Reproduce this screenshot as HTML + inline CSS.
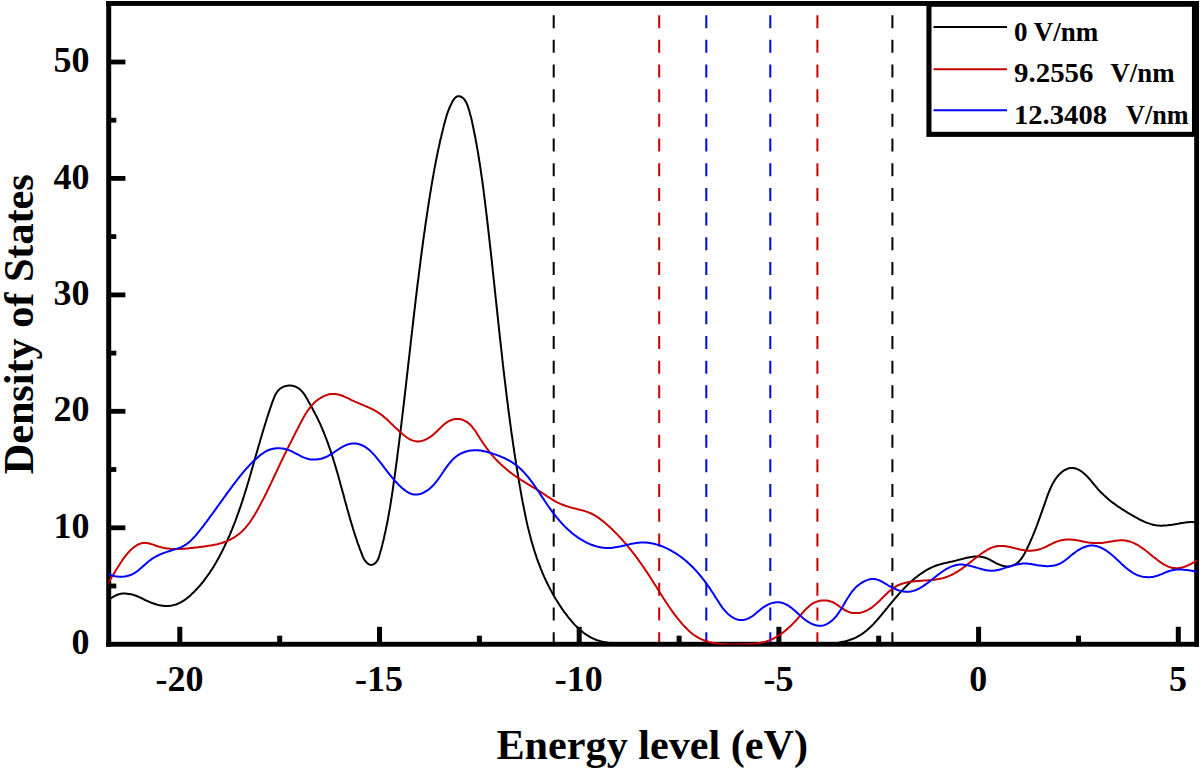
<!DOCTYPE html>
<html><head><meta charset="utf-8"><title>Density of States</title>
<style>html,body{margin:0;padding:0;background:#fff}svg{display:block}</style></head>
<body>
<svg width="1200" height="769" viewBox="0 0 1200 769">
<rect width="1200" height="769" fill="#fff"/>
<defs><clipPath id="cp"><rect x="108.4" y="2.5" width="1088.4" height="641.9"/></clipPath></defs>
<g fill="#000">
<rect x="106.2" y="1" width="5" height="645.7"/>
<rect x="106.2" y="641.8" width="1092.8" height="4.9"/>
<rect x="106.2" y="1" width="1092.8" height="4.9"/>
<rect x="1194.2" y="1" width="4.8" height="645.7"/>
<rect x="111" y="583.6" width="5.3" height="4.8"/>
<rect x="111" y="525.4" width="14.4" height="4.8"/>
<rect x="111" y="467.1" width="5.3" height="4.8"/>
<rect x="111" y="408.9" width="14.4" height="4.8"/>
<rect x="111" y="350.7" width="5.3" height="4.8"/>
<rect x="111" y="292.5" width="14.4" height="4.8"/>
<rect x="111" y="234.2" width="5.3" height="4.8"/>
<rect x="111" y="176.0" width="14.4" height="4.8"/>
<rect x="111" y="117.8" width="5.3" height="4.8"/>
<rect x="111" y="59.6" width="14.4" height="4.8"/>
<rect x="177.3" y="626.8" width="5" height="16"/>
<rect x="277.2" y="635.7" width="5" height="7.1"/>
<rect x="377.0" y="626.8" width="5" height="16"/>
<rect x="476.9" y="635.7" width="5" height="7.1"/>
<rect x="576.7" y="626.8" width="5" height="16"/>
<rect x="676.6" y="635.7" width="5" height="7.1"/>
<rect x="776.4" y="626.8" width="5" height="16"/>
<rect x="876.2" y="635.7" width="5" height="7.1"/>
<rect x="976.1" y="626.8" width="5" height="16"/>
<rect x="1076.0" y="635.7" width="5" height="7.1"/>
<rect x="1175.8" y="626.8" width="5" height="16"/>
</g>
<line x1="553.7" y1="15.13" x2="553.7" y2="642" stroke="#000" stroke-width="2" stroke-dasharray="13 11.68"/>
<line x1="659.2" y1="15.13" x2="659.2" y2="642" stroke="#c80000" stroke-width="2" stroke-dasharray="13 11.68"/>
<line x1="706.3" y1="15.13" x2="706.3" y2="642" stroke="#0000ff" stroke-width="2" stroke-dasharray="13 11.68"/>
<line x1="770.3" y1="15.13" x2="770.3" y2="642" stroke="#0000ff" stroke-width="2" stroke-dasharray="13 11.68"/>
<line x1="817.4" y1="15.13" x2="817.4" y2="642" stroke="#c80000" stroke-width="2" stroke-dasharray="13 11.68"/>
<line x1="892.4" y1="15.13" x2="892.4" y2="642" stroke="#000" stroke-width="2" stroke-dasharray="13 11.68"/>
<g fill="none" stroke-width="2" stroke-linejoin="round" clip-path="url(#cp)">
<path d="M106.0,600.5 L107.4,600.0 L108.8,599.4 L110.1,598.7 L111.4,597.9 L112.7,597.2 L114.0,596.4 L115.4,595.7 L116.7,595.0 L118.1,594.5 L119.6,594.1 L121.0,593.8 L122.6,593.6 L124.1,593.6 L125.6,593.6 L127.1,593.7 L128.6,593.9 L130.1,594.1 L131.6,594.4 L133.1,594.8 L134.5,595.2 L135.9,595.7 L137.2,596.3 L138.6,596.8 L139.9,597.4 L141.2,598.0 L142.5,598.7 L143.8,599.3 L145.1,600.0 L146.5,600.6 L147.8,601.2 L149.2,601.8 L150.6,602.4 L152.1,603.0 L153.6,603.5 L155.1,604.0 L156.6,604.5 L158.1,604.9 L159.7,605.2 L161.2,605.5 L162.8,605.7 L164.3,605.9 L165.8,606.0 L167.3,606.0 L168.8,605.9 L170.3,605.8 L171.7,605.6 L173.1,605.3 L174.5,604.9 L175.9,604.5 L177.2,604.0 L178.5,603.4 L179.8,602.8 L181.1,602.1 L182.3,601.4 L183.6,600.6 L184.8,599.8 L186.0,599.0 L187.2,598.1 L188.4,597.1 L189.5,596.2 L190.6,595.2 L191.7,594.1 L192.8,593.1 L193.9,592.0 L195.0,590.9 L196.0,589.8 L197.1,588.7 L198.1,587.6 L199.1,586.5 L200.1,585.3 L201.1,584.1 L202.0,583.0 L203.0,581.8 L203.9,580.6 L204.8,579.4 L205.7,578.2 L206.6,577.0 L207.5,575.7 L208.4,574.5 L209.3,573.3 L210.1,572.0 L210.9,570.8 L211.8,569.5 L212.6,568.2 L213.4,566.9 L214.2,565.6 L214.9,564.4 L215.7,563.1 L216.5,561.7 L217.2,560.4 L218.0,559.1 L218.7,557.8 L219.4,556.5 L220.1,555.1 L220.8,553.8 L221.5,552.5 L222.2,551.1 L222.9,549.8 L223.5,548.4 L224.2,547.1 L224.8,545.7 L225.5,544.3 L226.1,543.0 L226.8,541.6 L227.4,540.3 L228.0,538.9 L228.6,537.5 L229.2,536.1 L229.8,534.8 L230.4,533.4 L230.9,532.0 L231.5,530.6 L232.1,529.3 L232.6,527.9 L233.2,526.5 L233.7,525.1 L234.3,523.7 L234.8,522.3 L235.4,520.9 L235.9,519.5 L236.4,518.1 L236.9,516.7 L237.4,515.3 L237.9,513.9 L238.4,512.5 L238.9,511.1 L239.4,509.7 L239.9,508.3 L240.4,506.9 L240.9,505.5 L241.3,504.1 L241.8,502.7 L242.3,501.3 L242.7,499.8 L243.2,498.4 L243.6,497.0 L244.1,495.6 L244.5,494.2 L245.0,492.7 L245.4,491.3 L245.9,489.9 L246.3,488.5 L246.8,487.0 L247.2,485.6 L247.6,484.2 L248.0,482.8 L248.5,481.3 L248.9,479.9 L249.3,478.5 L249.7,477.0 L250.2,475.6 L250.6,474.1 L251.0,472.7 L251.4,471.3 L251.8,469.8 L252.2,468.4 L252.6,466.9 L253.1,465.5 L253.5,464.1 L253.9,462.6 L254.3,461.2 L254.7,459.7 L255.1,458.3 L255.5,456.8 L255.9,455.4 L256.3,453.9 L256.8,452.5 L257.2,451.1 L257.6,449.6 L258.0,448.2 L258.4,446.7 L258.8,445.3 L259.3,443.8 L259.7,442.4 L260.1,440.9 L260.5,439.5 L260.9,438.0 L261.4,436.6 L261.8,435.1 L262.2,433.6 L262.7,432.2 L263.1,430.7 L263.5,429.3 L264.0,427.8 L264.4,426.4 L264.9,424.9 L265.3,423.5 L265.8,422.0 L266.2,420.6 L266.7,419.1 L267.1,417.7 L267.6,416.2 L268.1,414.8 L268.5,413.3 L269.0,411.9 L269.5,410.4 L270.0,409.0 L270.5,407.5 L271.0,406.1 L271.5,404.6 L272.0,403.2 L272.5,401.7 L273.0,400.3 L273.6,398.9 L274.1,397.5 L274.7,396.1 L275.4,394.8 L276.1,393.5 L276.8,392.3 L277.7,391.2 L278.6,390.1 L279.5,389.2 L280.6,388.3 L281.8,387.6 L283.1,386.9 L284.4,386.4 L285.9,386.0 L287.4,385.8 L289.0,385.6 L290.6,385.6 L292.2,385.8 L293.7,386.1 L295.1,386.5 L296.5,387.1 L297.8,387.8 L299.0,388.6 L300.1,389.5 L301.2,390.6 L302.2,391.7 L303.2,392.9 L304.1,394.1 L305.0,395.4 L305.8,396.8 L306.6,398.1 L307.4,399.5 L308.1,400.8 L308.9,402.2 L309.7,403.5 L310.4,404.9 L311.1,406.2 L311.9,407.5 L312.6,408.8 L313.3,410.2 L314.0,411.5 L314.7,412.8 L315.3,414.1 L316.0,415.4 L316.7,416.7 L317.3,418.0 L318.0,419.3 L318.6,420.7 L319.2,422.0 L319.9,423.4 L320.5,424.7 L321.1,426.1 L321.7,427.4 L322.3,428.8 L322.8,430.2 L323.4,431.5 L324.0,432.9 L324.5,434.3 L325.1,435.7 L325.6,437.1 L326.2,438.5 L326.7,439.9 L327.2,441.3 L327.7,442.7 L328.2,444.1 L328.7,445.5 L329.2,447.0 L329.7,448.4 L330.2,449.8 L330.7,451.2 L331.2,452.7 L331.6,454.1 L332.1,455.5 L332.6,457.0 L333.0,458.4 L333.5,459.9 L333.9,461.3 L334.4,462.7 L334.8,464.2 L335.2,465.6 L335.7,467.1 L336.1,468.5 L336.5,470.0 L336.9,471.4 L337.4,472.9 L337.8,474.3 L338.2,475.8 L338.6,477.2 L339.0,478.7 L339.4,480.1 L339.8,481.6 L340.2,483.0 L340.6,484.5 L341.0,485.9 L341.4,487.4 L341.8,488.8 L342.2,490.3 L342.6,491.7 L343.0,493.1 L343.4,494.6 L343.8,496.0 L344.2,497.5 L344.5,498.9 L344.9,500.3 L345.3,501.8 L345.7,503.2 L346.1,504.6 L346.5,506.1 L346.9,507.5 L347.3,508.9 L347.7,510.4 L348.1,511.8 L348.5,513.2 L348.9,514.7 L349.3,516.1 L349.7,517.5 L350.1,518.9 L350.5,520.4 L351.0,521.8 L351.4,523.2 L351.8,524.7 L352.3,526.1 L352.7,527.5 L353.1,529.0 L353.6,530.4 L354.0,531.8 L354.5,533.3 L354.9,534.7 L355.4,536.1 L355.9,537.6 L356.4,539.0 L356.9,540.4 L357.3,541.9 L357.8,543.3 L358.4,544.8 L358.9,546.2 L359.4,547.6 L359.9,549.1 L360.5,550.5 L361.0,552.0 L361.6,553.4 L362.1,554.9 L362.7,556.3 L363.3,557.7 L364.0,559.0 L364.8,560.3 L365.7,561.5 L366.7,562.6 L367.8,563.6 L369.0,564.4 L370.3,564.8 L371.6,564.9 L373.0,564.5 L374.2,563.8 L375.4,563.0 L376.3,561.9 L377.2,560.8 L377.9,559.5 L378.5,558.2 L379.0,556.7 L379.4,555.3 L379.9,553.8 L380.3,552.3 L380.7,550.8 L381.1,549.4 L381.5,547.9 L381.9,546.4 L382.3,544.9 L382.6,543.4 L383.0,541.9 L383.4,540.5 L383.7,539.0 L384.1,537.5 L384.4,536.0 L384.7,534.5 L385.1,533.1 L385.4,531.6 L385.7,530.1 L386.0,528.6 L386.3,527.1 L386.6,525.7 L386.9,524.2 L387.2,522.7 L387.5,521.2 L387.8,519.7 L388.1,518.2 L388.3,516.8 L388.6,515.3 L388.9,513.8 L389.1,512.3 L389.4,510.8 L389.7,509.4 L389.9,507.9 L390.2,506.4 L390.4,504.9 L390.6,503.4 L390.9,502.0 L391.1,500.5 L391.3,499.0 L391.6,497.5 L391.8,496.0 L392.0,494.6 L392.2,493.1 L392.5,491.6 L392.7,490.1 L392.9,488.6 L393.1,487.2 L393.3,485.7 L393.5,484.2 L393.7,482.7 L393.9,481.2 L394.2,479.8 L394.4,478.3 L394.6,476.8 L394.8,475.3 L395.0,473.8 L395.2,472.3 L395.4,470.9 L395.6,469.4 L395.8,467.9 L396.0,466.4 L396.2,464.9 L396.4,463.4 L396.6,462.0 L396.8,460.5 L397.0,459.0 L397.2,457.5 L397.4,456.0 L397.5,454.5 L397.7,453.0 L397.9,451.6 L398.1,450.1 L398.3,448.6 L398.5,447.1 L398.7,445.6 L398.9,444.1 L399.1,442.6 L399.3,441.2 L399.4,439.7 L399.6,438.2 L399.8,436.7 L400.0,435.2 L400.2,433.7 L400.4,432.2 L400.5,430.8 L400.7,429.3 L400.9,427.8 L401.1,426.3 L401.3,424.8 L401.5,423.3 L401.6,421.8 L401.8,420.3 L402.0,418.9 L402.2,417.4 L402.3,415.9 L402.5,414.4 L402.7,412.9 L402.9,411.4 L403.1,409.9 L403.2,408.4 L403.4,406.9 L403.6,405.5 L403.8,404.0 L403.9,402.5 L404.1,401.0 L404.3,399.5 L404.5,398.0 L404.6,396.5 L404.8,395.0 L405.0,393.5 L405.1,392.0 L405.3,390.6 L405.5,389.1 L405.7,387.6 L405.8,386.1 L406.0,384.6 L406.2,383.1 L406.3,381.6 L406.5,380.1 L406.7,378.6 L406.8,377.1 L407.0,375.7 L407.2,374.2 L407.4,372.7 L407.5,371.2 L407.7,369.7 L407.9,368.2 L408.0,366.7 L408.2,365.2 L408.4,363.7 L408.5,362.2 L408.7,360.8 L408.9,359.3 L409.0,357.8 L409.2,356.3 L409.4,354.8 L409.6,353.3 L409.7,351.8 L409.9,350.3 L410.1,348.8 L410.2,347.3 L410.4,345.8 L410.6,344.4 L410.7,342.9 L410.9,341.4 L411.1,339.9 L411.2,338.4 L411.4,336.9 L411.6,335.4 L411.8,333.9 L411.9,332.4 L412.1,330.9 L412.3,329.4 L412.4,328.0 L412.6,326.5 L412.8,325.0 L413.0,323.5 L413.1,322.0 L413.3,320.5 L413.5,319.0 L413.6,317.5 L413.8,316.0 L414.0,314.5 L414.2,313.0 L414.3,311.6 L414.5,310.1 L414.7,308.6 L414.9,307.1 L415.0,305.6 L415.2,304.1 L415.4,302.6 L415.6,301.1 L415.7,299.6 L415.9,298.1 L416.1,296.7 L416.3,295.2 L416.5,293.7 L416.6,292.2 L416.8,290.7 L417.0,289.2 L417.2,287.7 L417.4,286.2 L417.5,284.7 L417.7,283.2 L417.9,281.8 L418.1,280.3 L418.3,278.8 L418.5,277.3 L418.7,275.8 L418.8,274.3 L419.0,272.8 L419.2,271.3 L419.4,269.8 L419.6,268.4 L419.8,266.9 L420.0,265.4 L420.2,263.9 L420.4,262.4 L420.5,260.9 L420.7,259.4 L420.9,257.9 L421.1,256.4 L421.3,255.0 L421.5,253.5 L421.7,252.0 L421.9,250.5 L422.1,249.0 L422.3,247.5 L422.5,246.0 L422.7,244.5 L422.9,243.1 L423.1,241.6 L423.3,240.1 L423.5,238.6 L423.7,237.1 L423.9,235.6 L424.1,234.1 L424.3,232.7 L424.6,231.2 L424.8,229.7 L425.0,228.2 L425.2,226.7 L425.4,225.2 L425.6,223.7 L425.8,222.3 L426.0,220.8 L426.3,219.3 L426.5,217.8 L426.7,216.3 L426.9,214.8 L427.1,213.4 L427.4,211.9 L427.6,210.4 L427.8,208.9 L428.0,207.4 L428.3,205.9 L428.5,204.5 L428.7,203.0 L429.0,201.5 L429.2,200.0 L429.4,198.5 L429.7,197.1 L429.9,195.6 L430.1,194.1 L430.4,192.6 L430.6,191.1 L430.9,189.7 L431.1,188.2 L431.3,186.7 L431.6,185.2 L431.8,183.7 L432.1,182.3 L432.3,180.8 L432.6,179.3 L432.9,177.8 L433.1,176.3 L433.4,174.9 L433.6,173.4 L433.9,171.9 L434.2,170.4 L434.4,169.0 L434.7,167.5 L435.0,166.0 L435.3,164.6 L435.6,163.1 L435.8,161.6 L436.1,160.1 L436.4,158.7 L436.7,157.2 L437.0,155.7 L437.3,154.3 L437.6,152.8 L437.9,151.3 L438.2,149.9 L438.5,148.4 L438.9,146.9 L439.2,145.5 L439.5,144.0 L439.8,142.6 L440.1,141.1 L440.5,139.6 L440.8,138.2 L441.2,136.7 L441.5,135.3 L441.8,133.8 L442.2,132.3 L442.6,130.9 L442.9,129.4 L443.3,128.0 L443.6,126.5 L444.0,125.1 L444.4,123.6 L444.8,122.2 L445.2,120.7 L445.6,119.3 L446.0,117.8 L446.4,116.4 L446.8,115.0 L447.3,113.5 L447.8,112.1 L448.3,110.7 L448.9,109.3 L449.4,107.9 L450.1,106.5 L450.7,105.1 L451.4,103.7 L452.1,102.3 L452.9,100.9 L453.7,99.6 L454.6,98.4 L455.6,97.4 L456.7,96.7 L457.8,96.2 L459.1,96.2 L460.5,96.5 L461.8,97.2 L463.1,98.1 L464.1,99.2 L465.0,100.4 L465.8,101.6 L466.5,103.0 L467.1,104.5 L467.7,105.9 L468.2,107.4 L468.6,108.9 L469.1,110.3 L469.5,111.8 L469.9,113.3 L470.3,114.7 L470.7,116.2 L471.1,117.6 L471.4,119.1 L471.8,120.6 L472.1,122.0 L472.4,123.5 L472.7,124.9 L473.0,126.4 L473.3,127.8 L473.6,129.3 L473.9,130.8 L474.2,132.2 L474.5,133.7 L474.8,135.2 L475.1,136.6 L475.4,138.1 L475.7,139.6 L475.9,141.0 L476.2,142.5 L476.5,144.0 L476.7,145.5 L477.0,146.9 L477.2,148.4 L477.5,149.9 L477.8,151.3 L478.0,152.8 L478.3,154.3 L478.5,155.8 L478.7,157.3 L479.0,158.7 L479.2,160.2 L479.4,161.7 L479.7,163.2 L479.9,164.7 L480.1,166.1 L480.4,167.6 L480.6,169.1 L480.8,170.6 L481.0,172.1 L481.2,173.5 L481.4,175.0 L481.6,176.5 L481.9,178.0 L482.1,179.5 L482.3,181.0 L482.5,182.5 L482.7,184.0 L482.9,185.4 L483.1,186.9 L483.3,188.4 L483.5,189.9 L483.7,191.4 L483.8,192.9 L484.0,194.4 L484.2,195.9 L484.4,197.3 L484.6,198.8 L484.8,200.3 L485.0,201.8 L485.2,203.3 L485.3,204.8 L485.5,206.3 L485.7,207.8 L485.9,209.3 L486.1,210.8 L486.2,212.3 L486.4,213.7 L486.6,215.2 L486.8,216.7 L486.9,218.2 L487.1,219.7 L487.3,221.2 L487.5,222.7 L487.6,224.2 L487.8,225.7 L488.0,227.2 L488.2,228.7 L488.3,230.1 L488.5,231.6 L488.7,233.1 L488.8,234.6 L489.0,236.1 L489.2,237.6 L489.3,239.1 L489.5,240.6 L489.7,242.1 L489.8,243.6 L490.0,245.1 L490.2,246.6 L490.3,248.0 L490.5,249.5 L490.7,251.0 L490.8,252.5 L491.0,254.0 L491.2,255.5 L491.3,257.0 L491.5,258.5 L491.7,260.0 L491.8,261.5 L492.0,263.0 L492.1,264.5 L492.3,265.9 L492.5,267.4 L492.6,268.9 L492.8,270.4 L492.9,271.9 L493.1,273.4 L493.3,274.9 L493.4,276.4 L493.6,277.9 L493.7,279.4 L493.9,280.9 L494.1,282.4 L494.2,283.9 L494.4,285.3 L494.5,286.8 L494.7,288.3 L494.8,289.8 L495.0,291.3 L495.2,292.8 L495.3,294.3 L495.5,295.8 L495.6,297.3 L495.8,298.8 L496.0,300.3 L496.1,301.8 L496.3,303.2 L496.4,304.7 L496.6,306.2 L496.7,307.7 L496.9,309.2 L497.1,310.7 L497.2,312.2 L497.4,313.7 L497.5,315.2 L497.7,316.7 L497.9,318.2 L498.0,319.7 L498.2,321.1 L498.3,322.6 L498.5,324.1 L498.7,325.6 L498.8,327.1 L499.0,328.6 L499.1,330.1 L499.3,331.6 L499.5,333.1 L499.6,334.6 L499.8,336.1 L499.9,337.5 L500.1,339.0 L500.3,340.5 L500.4,342.0 L500.6,343.5 L500.8,345.0 L500.9,346.5 L501.1,348.0 L501.3,349.5 L501.4,351.0 L501.6,352.4 L501.8,353.9 L501.9,355.4 L502.1,356.9 L502.3,358.4 L502.4,359.9 L502.6,361.4 L502.8,362.9 L502.9,364.4 L503.1,365.9 L503.3,367.3 L503.4,368.8 L503.6,370.3 L503.8,371.8 L504.0,373.3 L504.1,374.8 L504.3,376.3 L504.5,377.8 L504.7,379.3 L504.8,380.7 L505.0,382.2 L505.2,383.7 L505.4,385.2 L505.6,386.7 L505.7,388.2 L505.9,389.7 L506.1,391.2 L506.3,392.7 L506.5,394.1 L506.6,395.6 L506.8,397.1 L507.0,398.6 L507.2,400.1 L507.4,401.6 L507.6,403.1 L507.8,404.6 L508.0,406.0 L508.1,407.5 L508.3,409.0 L508.5,410.5 L508.7,412.0 L508.9,413.5 L509.1,415.0 L509.3,416.4 L509.5,417.9 L509.7,419.4 L509.9,420.9 L510.1,422.4 L510.3,423.9 L510.5,425.4 L510.7,426.9 L510.9,428.3 L511.1,429.8 L511.3,431.3 L511.5,432.8 L511.7,434.3 L511.9,435.8 L512.2,437.2 L512.4,438.7 L512.6,440.2 L512.8,441.7 L513.0,443.2 L513.2,444.7 L513.4,446.2 L513.7,447.6 L513.9,449.1 L514.1,450.6 L514.3,452.1 L514.5,453.6 L514.8,455.1 L515.0,456.5 L515.2,458.0 L515.5,459.5 L515.7,461.0 L515.9,462.5 L516.1,463.9 L516.4,465.4 L516.6,466.9 L516.9,468.4 L517.1,469.9 L517.3,471.4 L517.6,472.8 L517.8,474.3 L518.1,475.8 L518.3,477.3 L518.6,478.8 L518.8,480.2 L519.0,481.7 L519.3,483.2 L519.6,484.7 L519.8,486.2 L520.1,487.6 L520.3,489.1 L520.6,490.6 L520.8,492.1 L521.1,493.6 L521.4,495.0 L521.6,496.5 L521.9,498.0 L522.2,499.5 L522.4,500.9 L522.7,502.4 L523.0,503.9 L523.3,505.4 L523.6,506.8 L523.9,508.3 L524.2,509.8 L524.5,511.3 L524.8,512.7 L525.1,514.2 L525.4,515.7 L525.7,517.1 L526.0,518.6 L526.3,520.1 L526.6,521.5 L527.0,523.0 L527.3,524.4 L527.6,525.9 L528.0,527.4 L528.3,528.8 L528.7,530.3 L529.1,531.7 L529.4,533.2 L529.8,534.6 L530.2,536.1 L530.6,537.5 L530.9,539.0 L531.3,540.4 L531.7,541.9 L532.2,543.3 L532.6,544.7 L533.0,546.2 L533.4,547.6 L533.9,549.0 L534.3,550.5 L534.8,551.9 L535.2,553.3 L535.7,554.7 L536.2,556.1 L536.6,557.6 L537.1,559.0 L537.6,560.4 L538.1,561.8 L538.7,563.2 L539.2,564.6 L539.7,566.0 L540.3,567.4 L540.8,568.8 L541.4,570.2 L542.0,571.6 L542.5,572.9 L543.1,574.3 L543.7,575.7 L544.3,577.1 L545.0,578.5 L545.6,579.8 L546.2,581.2 L546.9,582.5 L547.5,583.9 L548.2,585.2 L548.9,586.6 L549.6,587.9 L550.3,589.3 L551.0,590.6 L551.7,591.9 L552.4,593.2 L553.2,594.6 L553.9,595.9 L554.7,597.2 L555.4,598.5 L556.2,599.8 L557.0,601.0 L557.8,602.3 L558.6,603.6 L559.4,604.8 L560.3,606.1 L561.1,607.4 L561.9,608.6 L562.8,609.8 L563.7,611.1 L564.6,612.3 L565.5,613.5 L566.4,614.7 L567.3,615.9 L568.2,617.1 L569.2,618.3 L570.1,619.4 L571.1,620.6 L572.0,621.7 L573.0,622.9 L574.0,624.0 L575.1,625.1 L576.1,626.1 L577.2,627.2 L578.2,628.2 L579.3,629.2 L580.4,630.2 L581.6,631.1 L582.7,632.1 L583.9,633.0 L585.1,633.8 L586.3,634.7 L587.5,635.5 L588.8,636.2 L590.0,637.0 L591.3,637.7 L592.7,638.3 L594.0,638.9 L595.4,639.5 L596.8,640.1 L598.2,640.5 L599.7,641.0 L601.2,641.4 L602.7,641.8 L604.2,642.1 L605.8,642.4 L607.3,642.6 L608.8,642.9 L610.4,643.1 L611.9,643.3 L613.4,643.5 L614.9,643.7 L616.3,643.8 L617.8,644.0 L619.1,644.2 L619.9,644.4" stroke="#000"/>
<path d="M822.1,644.3 L823.5,644.3 L824.9,644.2 L826.4,644.1 L827.8,643.9 L829.3,643.8 L830.8,643.7 L832.3,643.5 L833.8,643.3 L835.3,643.1 L836.8,642.9 L838.3,642.7 L839.9,642.4 L841.4,642.1 L842.9,641.8 L844.4,641.5 L845.8,641.1 L847.3,640.7 L848.8,640.3 L850.2,639.8 L851.6,639.3 L853.0,638.7 L854.4,638.2 L855.8,637.6 L857.1,636.9 L858.4,636.2 L859.7,635.5 L861.0,634.7 L862.2,633.9 L863.4,633.0 L864.6,632.1 L865.7,631.2 L866.9,630.3 L868.0,629.3 L869.1,628.3 L870.2,627.3 L871.3,626.3 L872.3,625.2 L873.4,624.1 L874.4,623.0 L875.4,621.9 L876.4,620.8 L877.4,619.7 L878.4,618.5 L879.4,617.4 L880.4,616.2 L881.3,615.1 L882.3,613.9 L883.2,612.7 L884.2,611.6 L885.2,610.4 L886.1,609.2 L887.1,608.1 L888.0,606.9 L889.0,605.7 L889.9,604.6 L890.9,603.4 L891.8,602.3 L892.8,601.1 L893.8,599.9 L894.7,598.8 L895.7,597.7 L896.7,596.5 L897.7,595.4 L898.6,594.3 L899.6,593.2 L900.6,592.1 L901.6,590.9 L902.7,589.9 L903.7,588.8 L904.7,587.7 L905.8,586.6 L906.8,585.6 L907.9,584.5 L909.0,583.5 L910.1,582.5 L911.2,581.5 L912.3,580.5 L913.4,579.5 L914.6,578.5 L915.7,577.6 L916.9,576.7 L918.1,575.7 L919.3,574.8 L920.5,574.0 L921.8,573.1 L923.0,572.3 L924.3,571.5 L925.6,570.7 L926.9,569.9 L928.2,569.2 L929.5,568.5 L930.9,567.8 L932.2,567.2 L933.6,566.6 L935.0,566.0 L936.4,565.5 L937.8,565.0 L939.2,564.6 L940.6,564.2 L942.1,563.8 L943.5,563.4 L945.0,563.1 L946.5,562.7 L947.9,562.4 L949.4,562.1 L950.9,561.8 L952.4,561.5 L953.8,561.1 L955.3,560.8 L956.8,560.4 L958.2,560.0 L959.7,559.6 L961.1,559.3 L962.6,558.9 L964.0,558.5 L965.5,558.1 L967.0,557.8 L968.4,557.5 L969.9,557.2 L971.4,557.0 L972.9,556.8 L974.4,556.6 L975.9,556.5 L977.4,556.5 L978.9,556.6 L980.4,556.7 L981.8,556.9 L983.3,557.2 L984.7,557.5 L986.1,558.0 L987.5,558.6 L988.8,559.2 L990.1,559.8 L991.5,560.6 L992.8,561.3 L994.1,562.0 L995.5,562.8 L996.8,563.5 L998.2,564.1 L999.6,564.7 L1001.0,565.3 L1002.5,565.7 L1004.0,566.1 L1005.5,566.3 L1007.0,566.4 L1008.6,566.4 L1010.1,566.2 L1011.6,565.9 L1013.0,565.4 L1014.3,564.9 L1015.6,564.2 L1016.7,563.4 L1017.8,562.5 L1018.9,561.5 L1019.9,560.4 L1020.8,559.3 L1021.7,558.1 L1022.6,556.9 L1023.4,555.6 L1024.1,554.2 L1024.9,552.9 L1025.6,551.5 L1026.3,550.1 L1027.0,548.7 L1027.7,547.3 L1028.3,545.9 L1029.0,544.6 L1029.6,543.2 L1030.2,541.8 L1030.8,540.4 L1031.4,539.0 L1032.0,537.7 L1032.6,536.3 L1033.2,534.9 L1033.7,533.5 L1034.3,532.2 L1034.8,530.8 L1035.4,529.4 L1035.9,528.0 L1036.4,526.6 L1037.0,525.3 L1037.5,523.9 L1038.0,522.5 L1038.5,521.1 L1039.0,519.7 L1039.5,518.3 L1040.0,516.9 L1040.5,515.5 L1041.0,514.1 L1041.5,512.7 L1042.0,511.3 L1042.5,509.9 L1043.0,508.5 L1043.5,507.1 L1044.0,505.7 L1044.5,504.3 L1045.0,502.8 L1045.5,501.4 L1046.0,500.0 L1046.5,498.5 L1047.0,497.1 L1047.5,495.6 L1048.1,494.2 L1048.6,492.7 L1049.2,491.3 L1049.8,489.9 L1050.4,488.5 L1051.0,487.1 L1051.7,485.7 L1052.3,484.3 L1053.1,483.0 L1053.8,481.7 L1054.6,480.4 L1055.4,479.2 L1056.3,477.9 L1057.2,476.8 L1058.1,475.6 L1059.1,474.6 L1060.2,473.5 L1061.3,472.5 L1062.4,471.6 L1063.6,470.7 L1064.9,470.0 L1066.2,469.3 L1067.6,468.7 L1068.9,468.3 L1070.3,468.0 L1071.8,467.9 L1073.2,468.0 L1074.6,468.3 L1076.0,468.6 L1077.4,469.2 L1078.8,469.8 L1080.0,470.5 L1081.3,471.3 L1082.5,472.2 L1083.7,473.2 L1084.9,474.2 L1086.0,475.3 L1087.1,476.4 L1088.2,477.5 L1089.2,478.7 L1090.3,479.9 L1091.3,481.1 L1092.3,482.3 L1093.3,483.5 L1094.2,484.7 L1095.2,485.8 L1096.2,487.0 L1097.2,488.1 L1098.1,489.3 L1099.1,490.4 L1100.1,491.5 L1101.2,492.5 L1102.2,493.6 L1103.3,494.6 L1104.3,495.6 L1105.4,496.6 L1106.5,497.6 L1107.6,498.6 L1108.8,499.5 L1109.9,500.4 L1111.1,501.4 L1112.2,502.3 L1113.4,503.1 L1114.6,504.0 L1115.8,504.9 L1117.0,505.8 L1118.2,506.6 L1119.5,507.4 L1120.7,508.3 L1122.0,509.1 L1123.2,509.9 L1124.5,510.7 L1125.8,511.5 L1127.1,512.3 L1128.4,513.1 L1129.7,513.8 L1131.0,514.6 L1132.3,515.4 L1133.7,516.1 L1135.0,516.9 L1136.3,517.6 L1137.7,518.4 L1139.0,519.1 L1140.4,519.8 L1141.7,520.5 L1143.1,521.1 L1144.5,521.8 L1145.9,522.4 L1147.3,522.9 L1148.7,523.4 L1150.1,523.9 L1151.5,524.3 L1152.9,524.7 L1154.4,525.0 L1155.8,525.3 L1157.3,525.5 L1158.7,525.6 L1160.2,525.7 L1161.6,525.7 L1163.1,525.6 L1164.6,525.6 L1166.1,525.4 L1167.6,525.3 L1169.1,525.1 L1170.6,524.9 L1172.0,524.7 L1173.5,524.4 L1175.0,524.2 L1176.5,523.9 L1178.0,523.7 L1179.5,523.4 L1181.0,523.1 L1182.5,522.9 L1183.9,522.7 L1185.4,522.5 L1186.9,522.3 L1188.4,522.2 L1189.8,522.1 L1191.3,522.1 L1192.8,522.1 L1194.3,522.2 L1195.8,522.3 L1197.3,522.6 L1198.8,522.8 L1200.0,523.1" stroke="#000"/>
<path d="M105.0,588.5 L105.7,587.2 L106.5,585.8 L107.2,584.5 L108.0,583.2 L108.7,581.9 L109.5,580.6 L110.3,579.4 L111.0,578.1 L111.8,576.9 L112.6,575.6 L113.4,574.4 L114.2,573.1 L115.0,571.9 L115.7,570.6 L116.5,569.3 L117.3,568.1 L118.1,566.8 L118.9,565.5 L119.7,564.2 L120.6,562.9 L121.4,561.7 L122.2,560.4 L123.1,559.1 L124.0,557.9 L124.9,556.7 L125.8,555.5 L126.8,554.3 L127.8,553.1 L128.8,552.0 L129.8,550.9 L130.9,549.8 L132.1,548.8 L133.2,547.8 L134.4,546.9 L135.7,546.0 L137.0,545.2 L138.3,544.5 L139.6,543.9 L141.0,543.4 L142.4,543.1 L143.8,542.9 L145.2,542.9 L146.6,543.0 L148.1,543.2 L149.5,543.5 L150.9,544.0 L152.4,544.4 L153.8,544.9 L155.3,545.5 L156.8,546.0 L158.2,546.5 L159.7,546.9 L161.2,547.3 L162.6,547.6 L164.1,548.0 L165.6,548.2 L167.1,548.4 L168.5,548.6 L170.0,548.8 L171.5,548.9 L173.0,549.0 L174.4,549.0 L175.9,549.1 L177.4,549.1 L178.9,549.0 L180.4,549.0 L181.8,548.9 L183.3,548.8 L184.8,548.7 L186.3,548.6 L187.8,548.5 L189.3,548.3 L190.8,548.1 L192.2,548.0 L193.7,547.8 L195.2,547.6 L196.7,547.4 L198.2,547.2 L199.7,547.0 L201.2,546.8 L202.7,546.7 L204.2,546.5 L205.7,546.3 L207.2,546.1 L208.7,545.8 L210.2,545.6 L211.6,545.4 L213.1,545.1 L214.6,544.8 L216.1,544.5 L217.5,544.2 L219.0,543.8 L220.4,543.4 L221.8,543.0 L223.3,542.5 L224.7,542.0 L226.1,541.5 L227.5,540.9 L228.8,540.3 L230.2,539.6 L231.5,538.9 L232.9,538.1 L234.2,537.4 L235.4,536.5 L236.7,535.7 L237.9,534.8 L239.1,533.9 L240.3,532.9 L241.4,531.9 L242.5,530.9 L243.5,529.8 L244.6,528.8 L245.6,527.7 L246.5,526.5 L247.5,525.4 L248.4,524.2 L249.3,523.0 L250.1,521.8 L251.0,520.6 L251.8,519.3 L252.6,518.1 L253.4,516.8 L254.2,515.5 L255.0,514.2 L255.7,512.9 L256.5,511.7 L257.2,510.4 L258.0,509.0 L258.7,507.7 L259.4,506.4 L260.1,505.1 L260.8,503.8 L261.5,502.4 L262.2,501.1 L262.9,499.8 L263.6,498.4 L264.3,497.1 L265.0,495.8 L265.6,494.4 L266.3,493.1 L267.0,491.7 L267.6,490.4 L268.3,489.0 L268.9,487.6 L269.6,486.3 L270.2,484.9 L270.9,483.6 L271.5,482.2 L272.1,480.8 L272.8,479.5 L273.4,478.1 L274.1,476.8 L274.7,475.4 L275.3,474.0 L276.0,472.7 L276.6,471.3 L277.2,470.0 L277.9,468.6 L278.5,467.3 L279.2,465.9 L279.8,464.6 L280.4,463.2 L281.1,461.9 L281.7,460.5 L282.4,459.2 L283.0,457.8 L283.7,456.5 L284.3,455.1 L285.0,453.8 L285.7,452.5 L286.3,451.1 L287.0,449.8 L287.6,448.4 L288.3,447.1 L289.0,445.8 L289.6,444.4 L290.3,443.1 L291.0,441.7 L291.7,440.4 L292.3,439.1 L293.0,437.7 L293.7,436.4 L294.4,435.1 L295.0,433.7 L295.7,432.4 L296.4,431.0 L297.1,429.7 L297.8,428.4 L298.5,427.0 L299.2,425.7 L299.9,424.3 L300.6,423.0 L301.3,421.7 L302.0,420.3 L302.7,419.0 L303.4,417.7 L304.2,416.3 L304.9,415.0 L305.7,413.7 L306.5,412.5 L307.3,411.2 L308.2,410.0 L309.1,408.8 L310.0,407.6 L310.9,406.4 L311.9,405.3 L312.9,404.2 L313.9,403.1 L315.0,402.1 L316.2,401.1 L317.4,400.1 L318.6,399.2 L319.9,398.4 L321.2,397.6 L322.5,396.8 L323.9,396.1 L325.2,395.6 L326.6,395.0 L328.1,394.6 L329.5,394.3 L330.9,394.0 L332.4,393.9 L333.8,393.9 L335.2,394.0 L336.6,394.2 L338.0,394.5 L339.5,394.8 L340.9,395.3 L342.3,395.8 L343.7,396.3 L345.1,396.9 L346.5,397.6 L347.9,398.2 L349.3,398.9 L350.7,399.6 L352.1,400.3 L353.5,400.9 L354.9,401.6 L356.3,402.2 L357.7,402.8 L359.1,403.4 L360.5,404.0 L361.9,404.6 L363.3,405.2 L364.7,405.8 L366.1,406.4 L367.5,407.0 L368.9,407.6 L370.2,408.2 L371.6,408.9 L372.9,409.5 L374.2,410.2 L375.4,410.9 L376.7,411.7 L377.9,412.4 L379.2,413.2 L380.3,414.1 L381.5,414.9 L382.7,415.8 L383.8,416.7 L384.9,417.7 L386.0,418.6 L387.1,419.6 L388.2,420.6 L389.3,421.7 L390.4,422.7 L391.4,423.7 L392.5,424.8 L393.6,425.9 L394.7,426.9 L395.8,428.0 L397.0,429.1 L398.1,430.1 L399.2,431.2 L400.4,432.3 L401.6,433.3 L402.8,434.3 L404.0,435.3 L405.3,436.3 L406.6,437.2 L407.8,438.0 L409.1,438.8 L410.4,439.5 L411.8,440.1 L413.1,440.6 L414.5,441.0 L415.8,441.2 L417.2,441.4 L418.6,441.4 L420.0,441.2 L421.3,441.0 L422.7,440.6 L424.1,440.2 L425.5,439.6 L426.8,439.0 L428.2,438.2 L429.5,437.4 L430.8,436.5 L432.0,435.6 L433.3,434.6 L434.5,433.6 L435.6,432.5 L436.8,431.5 L437.9,430.4 L439.0,429.3 L440.1,428.2 L441.2,427.1 L442.3,426.0 L443.4,425.0 L444.6,424.0 L445.8,423.1 L447.0,422.2 L448.2,421.5 L449.5,420.8 L450.8,420.2 L452.2,419.7 L453.6,419.3 L455.1,419.0 L456.6,418.9 L458.0,418.9 L459.5,419.0 L460.9,419.3 L462.3,419.7 L463.7,420.3 L465.0,420.9 L466.3,421.6 L467.5,422.4 L468.6,423.3 L469.7,424.3 L470.8,425.3 L471.8,426.4 L472.7,427.6 L473.7,428.8 L474.6,430.0 L475.5,431.3 L476.3,432.6 L477.2,433.9 L478.0,435.2 L478.9,436.5 L479.7,437.9 L480.5,439.2 L481.4,440.5 L482.2,441.7 L483.1,443.0 L483.9,444.3 L484.8,445.5 L485.7,446.7 L486.5,447.9 L487.4,449.1 L488.3,450.3 L489.2,451.5 L490.1,452.7 L491.1,453.8 L492.0,455.0 L493.0,456.1 L493.9,457.2 L494.9,458.3 L495.9,459.4 L496.9,460.4 L497.9,461.5 L499.0,462.6 L500.1,463.6 L501.1,464.6 L502.2,465.6 L503.3,466.6 L504.5,467.6 L505.6,468.6 L506.8,469.6 L508.0,470.5 L509.1,471.5 L510.3,472.4 L511.5,473.3 L512.8,474.2 L514.0,475.1 L515.2,476.0 L516.5,476.8 L517.7,477.7 L519.0,478.5 L520.2,479.3 L521.5,480.2 L522.7,481.0 L524.0,481.7 L525.3,482.5 L526.6,483.3 L527.8,484.1 L529.1,484.8 L530.4,485.6 L531.7,486.4 L532.9,487.1 L534.2,487.9 L535.5,488.7 L536.8,489.5 L538.0,490.3 L539.3,491.1 L540.6,491.9 L541.8,492.7 L543.1,493.5 L544.3,494.4 L545.6,495.2 L546.8,496.1 L548.1,496.9 L549.4,497.7 L550.6,498.5 L551.9,499.3 L553.2,500.1 L554.5,500.9 L555.8,501.6 L557.1,502.3 L558.5,502.9 L559.8,503.6 L561.2,504.2 L562.6,504.7 L564.0,505.2 L565.4,505.7 L566.8,506.2 L568.2,506.6 L569.7,507.1 L571.1,507.5 L572.6,507.9 L574.1,508.2 L575.5,508.6 L577.0,509.0 L578.4,509.4 L579.9,509.7 L581.3,510.1 L582.8,510.5 L584.2,510.9 L585.6,511.4 L587.1,511.9 L588.5,512.4 L589.8,512.9 L591.2,513.5 L592.5,514.2 L593.8,514.9 L595.1,515.6 L596.4,516.4 L597.6,517.2 L598.9,518.1 L600.1,519.0 L601.3,519.9 L602.5,520.9 L603.7,521.8 L604.8,522.8 L606.0,523.7 L607.1,524.7 L608.2,525.7 L609.4,526.7 L610.5,527.8 L611.6,528.8 L612.6,529.8 L613.7,530.9 L614.8,531.9 L615.8,533.0 L616.9,534.1 L617.9,535.1 L618.9,536.2 L620.0,537.3 L621.0,538.4 L622.0,539.5 L623.0,540.6 L624.0,541.8 L625.0,542.9 L625.9,544.0 L626.9,545.2 L627.9,546.3 L628.8,547.5 L629.7,548.6 L630.7,549.8 L631.6,551.0 L632.5,552.2 L633.5,553.3 L634.4,554.5 L635.3,555.7 L636.2,556.9 L637.1,558.1 L638.0,559.3 L638.9,560.6 L639.7,561.8 L640.6,563.0 L641.5,564.2 L642.3,565.5 L643.2,566.7 L644.0,567.9 L644.9,569.2 L645.7,570.4 L646.6,571.7 L647.4,572.9 L648.2,574.2 L649.1,575.4 L649.9,576.7 L650.7,577.9 L651.5,579.2 L652.3,580.5 L653.1,581.7 L653.9,583.0 L654.7,584.3 L655.5,585.5 L656.3,586.8 L657.1,588.1 L657.9,589.4 L658.7,590.6 L659.5,591.9 L660.3,593.2 L661.1,594.4 L661.9,595.7 L662.7,597.0 L663.5,598.2 L664.3,599.5 L665.1,600.8 L666.0,602.0 L666.8,603.3 L667.6,604.5 L668.4,605.8 L669.3,607.0 L670.1,608.2 L671.0,609.5 L671.8,610.7 L672.7,611.9 L673.6,613.1 L674.5,614.3 L675.4,615.5 L676.3,616.7 L677.2,617.9 L678.2,619.0 L679.1,620.2 L680.1,621.4 L681.0,622.5 L682.0,623.6 L683.0,624.8 L684.0,625.9 L685.1,627.0 L686.1,628.1 L687.2,629.1 L688.3,630.2 L689.4,631.2 L690.5,632.2 L691.7,633.2 L692.8,634.1 L694.0,635.0 L695.3,635.8 L696.5,636.7 L697.8,637.4 L699.1,638.1 L700.5,638.8 L701.8,639.4 L703.2,640.0 L704.6,640.5 L706.0,641.0 L707.5,641.5 L708.9,641.9 L710.4,642.2 L711.9,642.6 L713.3,642.9 L714.8,643.1 L716.3,643.4 L717.7,643.6 L719.2,643.8 L720.7,643.9 L722.2,644.0 L723.6,644.1 L725.1,644.2 L726.6,644.3 L728.1,644.3 L729.6,644.4 L731.1,644.4 L732.5,644.4 L734.0,644.4 L735.5,644.4 L737.1,644.3 L738.6,644.3 L740.1,644.3 L741.6,644.3 L743.1,644.2 L744.7,644.2 L746.2,644.2 L747.7,644.1 L749.3,644.0 L750.8,643.9 L752.3,643.8 L753.9,643.7 L755.4,643.6 L756.9,643.4 L758.4,643.2 L759.9,642.9 L761.3,642.6 L762.8,642.3 L764.2,642.0 L765.6,641.6 L767.0,641.1 L768.4,640.7 L769.8,640.1 L771.1,639.6 L772.5,639.0 L773.8,638.3 L775.1,637.6 L776.4,636.9 L777.6,636.2 L778.9,635.4 L780.1,634.6 L781.3,633.7 L782.5,632.9 L783.7,632.0 L784.9,631.0 L786.1,630.1 L787.2,629.1 L788.3,628.1 L789.5,627.1 L790.6,626.0 L791.7,625.0 L792.7,623.9 L793.8,622.8 L794.9,621.6 L795.9,620.5 L797.0,619.4 L798.0,618.2 L799.0,617.0 L800.0,615.8 L801.0,614.7 L802.0,613.5 L803.0,612.3 L804.0,611.2 L805.1,610.0 L806.1,609.0 L807.2,607.9 L808.3,606.9 L809.4,605.9 L810.5,605.0 L811.7,604.2 L812.9,603.4 L814.2,602.7 L815.5,602.1 L816.8,601.6 L818.2,601.2 L819.7,600.8 L821.1,600.6 L822.6,600.4 L824.0,600.4 L825.5,600.4 L827.0,600.6 L828.4,600.8 L829.9,601.2 L831.3,601.6 L832.7,602.2 L834.0,602.9 L835.3,603.7 L836.7,604.5 L837.9,605.4 L839.2,606.3 L840.5,607.2 L841.8,608.1 L843.1,608.9 L844.3,609.8 L845.7,610.5 L847.0,611.2 L848.4,611.8 L849.8,612.3 L851.2,612.7 L852.7,612.9 L854.1,613.1 L855.6,613.1 L857.1,613.1 L858.6,612.9 L860.1,612.7 L861.5,612.4 L862.9,612.0 L864.4,611.5 L865.7,610.9 L867.1,610.3 L868.4,609.6 L869.6,608.9 L870.9,608.1 L872.1,607.2 L873.3,606.3 L874.5,605.3 L875.6,604.4 L876.8,603.3 L877.9,602.3 L879.0,601.2 L880.1,600.2 L881.2,599.1 L882.3,598.0 L883.4,596.9 L884.5,595.8 L885.6,594.7 L886.7,593.7 L887.8,592.6 L889.0,591.6 L890.1,590.6 L891.3,589.7 L892.4,588.8 L893.6,587.9 L894.9,587.1 L896.1,586.4 L897.4,585.7 L898.7,585.0 L900.0,584.5 L901.4,584.0 L902.8,583.5 L904.2,583.1 L905.6,582.7 L907.1,582.4 L908.5,582.1 L910.0,581.9 L911.5,581.6 L913.0,581.4 L914.5,581.3 L916.1,581.1 L917.6,581.0 L919.1,580.9 L920.6,580.8 L922.2,580.7 L923.7,580.6 L925.2,580.5 L926.8,580.4 L928.3,580.3 L929.8,580.2 L931.3,580.0 L932.8,579.9 L934.2,579.7 L935.7,579.5 L937.2,579.3 L938.6,579.1 L940.0,578.8 L941.5,578.5 L942.9,578.1 L944.3,577.7 L945.7,577.3 L947.1,576.8 L948.5,576.2 L949.9,575.6 L951.3,575.0 L952.6,574.3 L954.0,573.6 L955.3,572.9 L956.6,572.1 L957.9,571.3 L959.2,570.5 L960.5,569.6 L961.8,568.8 L963.0,567.9 L964.2,567.0 L965.4,566.1 L966.6,565.2 L967.7,564.3 L968.9,563.4 L970.0,562.5 L971.2,561.6 L972.3,560.7 L973.5,559.8 L974.6,558.8 L975.8,557.9 L976.9,557.0 L978.1,556.1 L979.4,555.2 L980.6,554.3 L981.8,553.4 L983.1,552.5 L984.4,551.6 L985.8,550.8 L987.1,550.0 L988.5,549.2 L989.8,548.5 L991.2,547.9 L992.6,547.4 L994.0,546.9 L995.5,546.5 L996.9,546.2 L998.3,546.0 L999.8,545.9 L1001.2,545.9 L1002.7,545.9 L1004.2,546.0 L1005.6,546.2 L1007.1,546.4 L1008.6,546.7 L1010.1,547.0 L1011.5,547.4 L1013.0,547.7 L1014.5,548.1 L1016.0,548.5 L1017.5,548.8 L1019.0,549.2 L1020.4,549.5 L1021.9,549.9 L1023.4,550.1 L1024.9,550.4 L1026.4,550.5 L1027.8,550.7 L1029.3,550.7 L1030.8,550.7 L1032.2,550.6 L1033.7,550.5 L1035.1,550.3 L1036.6,550.1 L1038.0,549.7 L1039.4,549.3 L1040.8,548.9 L1042.2,548.4 L1043.6,547.8 L1045.0,547.2 L1046.4,546.5 L1047.7,545.9 L1049.1,545.2 L1050.5,544.5 L1051.9,543.8 L1053.2,543.1 L1054.6,542.5 L1056.0,541.9 L1057.4,541.4 L1058.9,540.9 L1060.3,540.5 L1061.7,540.2 L1063.2,539.9 L1064.7,539.7 L1066.2,539.6 L1067.6,539.5 L1069.1,539.5 L1070.6,539.6 L1072.1,539.7 L1073.6,539.8 L1075.1,540.0 L1076.6,540.3 L1078.1,540.5 L1079.6,540.8 L1081.1,541.1 L1082.6,541.4 L1084.1,541.7 L1085.6,542.0 L1087.0,542.2 L1088.5,542.5 L1090.0,542.7 L1091.4,542.8 L1092.9,543.0 L1094.3,543.0 L1095.8,543.1 L1097.2,543.1 L1098.7,543.1 L1100.2,543.0 L1101.7,542.9 L1103.2,542.7 L1104.7,542.6 L1106.2,542.3 L1107.8,542.1 L1109.3,541.8 L1110.9,541.5 L1112.4,541.3 L1114.0,541.0 L1115.5,540.8 L1117.1,540.5 L1118.6,540.4 L1120.1,540.3 L1121.6,540.3 L1123.1,540.3 L1124.5,540.4 L1126.0,540.6 L1127.4,540.9 L1128.7,541.2 L1130.1,541.6 L1131.4,542.1 L1132.8,542.6 L1134.1,543.2 L1135.4,543.8 L1136.7,544.5 L1137.9,545.2 L1139.2,546.0 L1140.4,546.8 L1141.7,547.6 L1142.9,548.5 L1144.1,549.4 L1145.3,550.3 L1146.6,551.2 L1147.8,552.2 L1149.0,553.2 L1150.2,554.2 L1151.4,555.2 L1152.6,556.2 L1153.8,557.2 L1155.1,558.1 L1156.3,559.1 L1157.5,560.1 L1158.8,561.0 L1160.0,561.9 L1161.3,562.8 L1162.5,563.6 L1163.8,564.4 L1165.1,565.1 L1166.4,565.7 L1167.7,566.3 L1169.0,566.9 L1170.4,567.3 L1171.7,567.7 L1173.1,568.0 L1174.5,568.1 L1175.9,568.2 L1177.3,568.2 L1178.7,568.1 L1180.2,567.9 L1181.7,567.6 L1183.1,567.1 L1184.6,566.7 L1186.1,566.1 L1187.6,565.5 L1189.0,564.8 L1190.5,564.2 L1191.9,563.4 L1193.3,562.7 L1194.7,562.0 L1196.0,561.2 L1197.3,560.5 L1198.5,559.8 L1199.7,559.2 L1200.8,558.5 L1200.8,558.5" stroke="#c80000"/>
<path d="M104.0,571.4 L105.3,572.2 L106.6,573.0 L108.0,573.7 L109.3,574.4 L110.8,574.9 L112.2,575.4 L113.6,575.8 L115.1,576.2 L116.6,576.4 L118.1,576.6 L119.6,576.7 L121.0,576.7 L122.5,576.7 L124.0,576.6 L125.5,576.4 L126.9,576.1 L128.3,575.7 L129.7,575.3 L131.1,574.8 L132.5,574.2 L133.8,573.5 L135.1,572.7 L136.3,571.9 L137.5,571.0 L138.7,570.1 L139.9,569.1 L141.0,568.1 L142.2,567.1 L143.3,566.1 L144.5,565.0 L145.6,564.0 L146.8,563.0 L147.9,562.0 L149.1,561.0 L150.3,560.1 L151.5,559.2 L152.7,558.4 L154.0,557.6 L155.3,556.9 L156.6,556.1 L157.9,555.5 L159.2,554.8 L160.6,554.2 L161.9,553.7 L163.3,553.1 L164.7,552.6 L166.2,552.1 L167.6,551.6 L169.1,551.2 L170.5,550.7 L172.0,550.3 L173.4,549.9 L174.9,549.4 L176.3,548.9 L177.8,548.5 L179.2,547.9 L180.6,547.4 L181.9,546.8 L183.2,546.1 L184.5,545.4 L185.8,544.6 L187.0,543.7 L188.1,542.9 L189.3,541.9 L190.4,540.9 L191.5,539.9 L192.5,538.9 L193.6,537.8 L194.6,536.7 L195.6,535.6 L196.6,534.4 L197.5,533.2 L198.5,532.1 L199.4,530.9 L200.4,529.7 L201.3,528.5 L202.2,527.3 L203.2,526.1 L204.1,524.9 L205.0,523.7 L205.9,522.5 L206.8,521.3 L207.7,520.1 L208.6,518.9 L209.5,517.6 L210.4,516.4 L211.3,515.2 L212.2,514.0 L213.0,512.8 L213.9,511.6 L214.8,510.4 L215.7,509.2 L216.6,507.9 L217.4,506.7 L218.3,505.5 L219.2,504.3 L220.0,503.1 L220.9,501.9 L221.8,500.6 L222.7,499.4 L223.5,498.2 L224.4,497.0 L225.3,495.8 L226.2,494.6 L227.0,493.4 L227.9,492.2 L228.8,491.0 L229.7,489.8 L230.6,488.6 L231.5,487.4 L232.3,486.2 L233.2,485.0 L234.1,483.8 L235.0,482.6 L236.0,481.4 L236.9,480.2 L237.8,479.0 L238.7,477.8 L239.6,476.7 L240.6,475.5 L241.5,474.3 L242.5,473.2 L243.4,472.0 L244.4,470.9 L245.4,469.7 L246.4,468.6 L247.4,467.5 L248.4,466.4 L249.4,465.3 L250.4,464.2 L251.5,463.1 L252.6,462.0 L253.6,461.0 L254.7,460.0 L255.9,458.9 L257.0,457.9 L258.2,456.9 L259.3,455.9 L260.5,455.0 L261.7,454.1 L263.0,453.2 L264.2,452.3 L265.5,451.6 L266.8,450.9 L268.2,450.2 L269.6,449.7 L271.0,449.2 L272.4,448.9 L273.9,448.6 L275.3,448.4 L276.8,448.3 L278.3,448.2 L279.8,448.3 L281.3,448.4 L282.8,448.6 L284.2,448.8 L285.7,449.2 L287.2,449.6 L288.6,450.1 L290.0,450.6 L291.4,451.2 L292.8,451.9 L294.1,452.6 L295.5,453.3 L296.8,454.0 L298.2,454.7 L299.5,455.4 L300.9,456.1 L302.2,456.8 L303.6,457.4 L305.0,457.9 L306.4,458.4 L307.8,458.8 L309.2,459.2 L310.7,459.4 L312.2,459.6 L313.7,459.6 L315.2,459.6 L316.7,459.5 L318.2,459.3 L319.7,459.1 L321.2,458.7 L322.6,458.3 L324.0,457.8 L325.4,457.3 L326.8,456.6 L328.1,456.0 L329.4,455.2 L330.7,454.5 L331.9,453.7 L333.2,452.9 L334.4,452.0 L335.7,451.2 L336.9,450.3 L338.2,449.5 L339.5,448.6 L340.8,447.8 L342.1,447.1 L343.4,446.4 L344.8,445.7 L346.2,445.1 L347.7,444.5 L349.1,444.1 L350.6,443.7 L352.1,443.5 L353.5,443.4 L355.0,443.4 L356.5,443.6 L357.9,443.9 L359.4,444.3 L360.8,444.8 L362.2,445.3 L363.5,446.0 L364.8,446.7 L366.0,447.5 L367.2,448.4 L368.4,449.3 L369.6,450.3 L370.7,451.3 L371.8,452.4 L372.9,453.5 L373.9,454.6 L374.9,455.7 L375.9,456.9 L376.9,458.1 L377.9,459.3 L378.8,460.5 L379.7,461.7 L380.7,462.9 L381.6,464.0 L382.5,465.2 L383.4,466.4 L384.3,467.6 L385.2,468.8 L386.1,469.9 L387.0,471.1 L387.9,472.3 L388.8,473.4 L389.7,474.6 L390.6,475.7 L391.6,476.9 L392.5,478.0 L393.5,479.1 L394.5,480.3 L395.5,481.4 L396.5,482.5 L397.5,483.6 L398.6,484.7 L399.7,485.8 L400.8,486.8 L402.0,487.9 L403.1,488.9 L404.4,489.9 L405.6,490.8 L406.9,491.7 L408.2,492.5 L409.5,493.1 L410.8,493.7 L412.2,494.1 L413.6,494.5 L415.0,494.6 L416.5,494.6 L418.0,494.4 L419.4,494.1 L420.9,493.7 L422.4,493.1 L423.8,492.5 L425.1,491.7 L426.5,491.0 L427.7,490.1 L428.9,489.3 L430.1,488.3 L431.2,487.3 L432.2,486.3 L433.3,485.3 L434.3,484.2 L435.2,483.0 L436.2,481.9 L437.1,480.7 L438.0,479.5 L438.9,478.3 L439.7,477.0 L440.6,475.8 L441.5,474.5 L442.3,473.2 L443.2,472.0 L444.0,470.7 L444.9,469.4 L445.8,468.1 L446.7,466.9 L447.6,465.7 L448.5,464.4 L449.4,463.3 L450.4,462.1 L451.4,461.0 L452.4,459.9 L453.5,458.8 L454.6,457.8 L455.7,456.9 L456.9,456.0 L458.1,455.2 L459.4,454.4 L460.7,453.7 L462.0,453.0 L463.4,452.5 L464.8,452.0 L466.2,451.5 L467.7,451.1 L469.1,450.8 L470.6,450.6 L472.1,450.4 L473.6,450.3 L475.1,450.2 L476.6,450.2 L478.0,450.3 L479.5,450.4 L481.0,450.6 L482.5,450.9 L483.9,451.2 L485.4,451.5 L486.9,451.9 L488.3,452.3 L489.8,452.7 L491.2,453.1 L492.7,453.6 L494.1,454.1 L495.6,454.6 L497.0,455.1 L498.4,455.6 L499.9,456.2 L501.3,456.8 L502.7,457.4 L504.1,458.0 L505.4,458.6 L506.8,459.3 L508.1,460.0 L509.4,460.7 L510.7,461.5 L512.0,462.2 L513.2,463.1 L514.4,463.9 L515.6,464.8 L516.8,465.7 L517.9,466.6 L519.0,467.5 L520.1,468.5 L521.2,469.5 L522.2,470.6 L523.3,471.6 L524.3,472.7 L525.3,473.8 L526.2,474.9 L527.2,476.0 L528.2,477.1 L529.1,478.3 L530.0,479.5 L530.9,480.7 L531.8,481.9 L532.7,483.1 L533.6,484.3 L534.5,485.5 L535.3,486.8 L536.2,488.0 L537.0,489.3 L537.9,490.6 L538.7,491.8 L539.6,493.1 L540.4,494.4 L541.2,495.6 L542.1,496.9 L542.9,498.2 L543.8,499.4 L544.6,500.7 L545.5,502.0 L546.3,503.2 L547.2,504.5 L548.0,505.7 L548.9,507.0 L549.8,508.2 L550.6,509.4 L551.5,510.7 L552.4,511.9 L553.3,513.1 L554.2,514.3 L555.2,515.5 L556.1,516.6 L557.0,517.8 L558.0,518.9 L559.0,520.1 L559.9,521.2 L560.9,522.3 L561.9,523.4 L562.9,524.5 L564.0,525.6 L565.0,526.7 L566.1,527.7 L567.2,528.7 L568.2,529.8 L569.4,530.8 L570.5,531.7 L571.6,532.7 L572.8,533.7 L574.0,534.6 L575.2,535.5 L576.4,536.4 L577.6,537.3 L578.9,538.1 L580.1,538.9 L581.4,539.7 L582.7,540.5 L584.0,541.2 L585.4,542.0 L586.7,542.6 L588.1,543.3 L589.4,543.9 L590.8,544.5 L592.2,545.0 L593.6,545.5 L595.0,546.0 L596.5,546.4 L597.9,546.8 L599.3,547.1 L600.8,547.4 L602.2,547.6 L603.7,547.8 L605.1,547.9 L606.6,548.0 L608.1,548.0 L609.5,547.9 L611.0,547.9 L612.5,547.7 L613.9,547.5 L615.4,547.3 L616.9,547.1 L618.4,546.8 L619.8,546.5 L621.3,546.2 L622.8,545.8 L624.3,545.5 L625.8,545.1 L627.3,544.8 L628.8,544.5 L630.2,544.1 L631.7,543.8 L633.2,543.5 L634.7,543.3 L636.2,543.0 L637.7,542.8 L639.2,542.7 L640.7,542.6 L642.2,542.5 L643.7,542.5 L645.2,542.5 L646.7,542.6 L648.1,542.8 L649.6,543.0 L651.1,543.2 L652.6,543.5 L654.1,543.8 L655.5,544.2 L657.0,544.6 L658.4,545.0 L659.9,545.5 L661.3,546.0 L662.7,546.6 L664.1,547.2 L665.5,547.8 L666.9,548.4 L668.3,549.1 L669.6,549.8 L671.0,550.5 L672.3,551.3 L673.6,552.0 L674.9,552.8 L676.2,553.6 L677.4,554.4 L678.7,555.3 L679.9,556.2 L681.1,557.0 L682.3,557.9 L683.5,558.9 L684.6,559.8 L685.8,560.7 L686.9,561.7 L688.0,562.7 L689.1,563.7 L690.2,564.7 L691.2,565.7 L692.3,566.8 L693.3,567.8 L694.3,568.9 L695.4,570.0 L696.4,571.1 L697.3,572.2 L698.3,573.3 L699.3,574.4 L700.2,575.5 L701.2,576.7 L702.1,577.9 L703.0,579.0 L703.9,580.2 L704.8,581.4 L705.7,582.6 L706.6,583.8 L707.5,585.1 L708.4,586.3 L709.2,587.5 L710.1,588.8 L710.9,590.0 L711.7,591.3 L712.6,592.5 L713.4,593.8 L714.2,595.1 L715.0,596.4 L715.8,597.7 L716.7,599.0 L717.5,600.3 L718.3,601.5 L719.1,602.8 L719.9,604.1 L720.8,605.3 L721.6,606.6 L722.5,607.8 L723.5,609.0 L724.4,610.1 L725.4,611.2 L726.4,612.3 L727.5,613.4 L728.6,614.4 L729.7,615.3 L730.9,616.2 L732.2,617.1 L733.5,617.9 L734.9,618.6 L736.3,619.2 L737.7,619.6 L739.2,620.0 L740.6,620.1 L742.1,620.1 L743.6,619.9 L745.1,619.6 L746.5,619.2 L747.9,618.6 L749.3,618.0 L750.6,617.2 L751.8,616.5 L753.1,615.6 L754.3,614.7 L755.4,613.8 L756.6,612.8 L757.7,611.8 L758.9,610.9 L760.0,609.9 L761.2,608.9 L762.4,608.0 L763.7,607.1 L764.9,606.3 L766.3,605.5 L767.6,604.8 L769.0,604.1 L770.5,603.6 L771.9,603.1 L773.4,602.7 L774.9,602.4 L776.3,602.3 L777.8,602.2 L779.2,602.3 L780.7,602.5 L782.1,602.9 L783.5,603.3 L784.8,603.9 L786.2,604.5 L787.5,605.2 L788.8,606.0 L790.1,606.9 L791.3,607.8 L792.5,608.7 L793.7,609.7 L794.9,610.7 L796.0,611.7 L797.1,612.7 L798.2,613.7 L799.3,614.7 L800.4,615.8 L801.5,616.8 L802.6,617.7 L803.8,618.7 L804.9,619.6 L806.1,620.5 L807.4,621.4 L808.6,622.2 L810.0,622.9 L811.3,623.6 L812.7,624.3 L814.2,624.8 L815.7,625.2 L817.2,625.6 L818.6,625.8 L820.1,625.8 L821.6,625.7 L823.0,625.5 L824.4,625.1 L825.8,624.6 L827.1,623.9 L828.4,623.2 L829.6,622.4 L830.8,621.5 L832.0,620.6 L833.0,619.6 L834.1,618.5 L835.1,617.4 L836.1,616.3 L837.0,615.1 L837.9,613.9 L838.8,612.6 L839.7,611.3 L840.5,610.0 L841.4,608.7 L842.2,607.4 L843.0,606.1 L843.7,604.8 L844.5,603.4 L845.3,602.1 L846.0,600.8 L846.8,599.5 L847.6,598.2 L848.4,597.0 L849.2,595.7 L850.0,594.5 L850.9,593.3 L851.7,592.1 L852.6,590.9 L853.6,589.8 L854.6,588.7 L855.6,587.6 L856.7,586.6 L857.8,585.6 L859.0,584.7 L860.2,583.8 L861.5,582.9 L862.8,582.1 L864.2,581.3 L865.7,580.7 L867.1,580.1 L868.6,579.6 L870.0,579.3 L871.5,579.1 L872.9,579.0 L874.3,579.0 L875.7,579.2 L877.0,579.6 L878.4,580.0 L879.7,580.6 L881.0,581.2 L882.3,581.9 L883.6,582.6 L884.9,583.4 L886.3,584.2 L887.6,585.0 L889.0,585.8 L890.4,586.6 L891.8,587.4 L893.3,588.1 L894.7,588.8 L896.2,589.4 L897.7,590.0 L899.1,590.5 L900.6,590.9 L902.0,591.3 L903.5,591.5 L904.9,591.7 L906.4,591.8 L907.8,591.8 L909.1,591.7 L910.5,591.5 L911.9,591.2 L913.2,590.9 L914.6,590.5 L915.9,590.0 L917.2,589.4 L918.5,588.8 L919.8,588.1 L921.1,587.4 L922.3,586.6 L923.6,585.8 L924.9,584.9 L926.1,584.0 L927.4,583.1 L928.6,582.2 L929.9,581.2 L931.1,580.2 L932.3,579.3 L933.6,578.3 L934.8,577.3 L936.1,576.3 L937.3,575.3 L938.5,574.4 L939.8,573.5 L941.0,572.5 L942.3,571.7 L943.5,570.8 L944.8,570.0 L946.1,569.2 L947.4,568.5 L948.7,567.8 L950.0,567.2 L951.3,566.6 L952.6,566.1 L954.0,565.7 L955.3,565.3 L956.7,565.0 L958.1,564.7 L959.5,564.6 L960.9,564.5 L962.4,564.6 L963.9,564.7 L965.4,564.9 L966.9,565.1 L968.4,565.4 L969.9,565.8 L971.4,566.2 L972.9,566.6 L974.5,567.0 L976.0,567.5 L977.5,567.9 L979.0,568.4 L980.5,568.8 L981.9,569.2 L983.4,569.6 L984.8,569.9 L986.3,570.2 L987.7,570.5 L989.1,570.6 L990.6,570.7 L992.0,570.8 L993.4,570.7 L994.9,570.6 L996.3,570.3 L997.8,570.1 L999.2,569.7 L1000.7,569.3 L1002.1,568.9 L1003.6,568.4 L1005.1,567.9 L1006.5,567.4 L1008.0,567.0 L1009.5,566.5 L1010.9,566.0 L1012.4,565.6 L1013.9,565.2 L1015.3,564.8 L1016.8,564.5 L1018.3,564.2 L1019.7,563.9 L1021.2,563.8 L1022.7,563.6 L1024.1,563.6 L1025.6,563.6 L1027.1,563.6 L1028.5,563.8 L1030.0,563.9 L1031.5,564.1 L1032.9,564.4 L1034.4,564.6 L1035.9,564.9 L1037.4,565.2 L1038.9,565.4 L1040.4,565.6 L1041.9,565.8 L1043.5,566.0 L1045.0,566.1 L1046.5,566.2 L1048.1,566.2 L1049.6,566.1 L1051.1,566.0 L1052.6,565.8 L1054.0,565.6 L1055.5,565.2 L1056.9,564.8 L1058.3,564.3 L1059.6,563.8 L1060.9,563.1 L1062.1,562.4 L1063.3,561.6 L1064.6,560.7 L1065.7,559.9 L1066.9,558.9 L1068.1,558.0 L1069.3,557.0 L1070.4,556.0 L1071.6,555.0 L1072.8,554.1 L1074.1,553.1 L1075.3,552.2 L1076.6,551.3 L1077.9,550.4 L1079.2,549.6 L1080.6,548.8 L1081.9,548.1 L1083.3,547.5 L1084.7,547.0 L1086.1,546.5 L1087.6,546.1 L1089.0,545.8 L1090.4,545.6 L1091.8,545.6 L1093.2,545.6 L1094.6,545.8 L1096.0,546.0 L1097.4,546.4 L1098.8,546.8 L1100.2,547.4 L1101.5,548.0 L1102.9,548.7 L1104.2,549.4 L1105.5,550.2 L1106.8,551.0 L1108.0,551.9 L1109.3,552.8 L1110.5,553.8 L1111.7,554.8 L1112.9,555.8 L1114.0,556.8 L1115.2,557.8 L1116.3,558.9 L1117.5,559.9 L1118.6,561.0 L1119.7,562.1 L1120.8,563.1 L1121.9,564.2 L1123.1,565.2 L1124.2,566.2 L1125.3,567.2 L1126.5,568.2 L1127.6,569.1 L1128.8,570.0 L1130.0,570.9 L1131.2,571.7 L1132.4,572.5 L1133.6,573.3 L1134.9,573.9 L1136.2,574.6 L1137.5,575.1 L1138.9,575.7 L1140.3,576.1 L1141.7,576.5 L1143.1,576.8 L1144.6,577.0 L1146.1,577.1 L1147.7,577.2 L1149.2,577.2 L1150.7,577.1 L1152.2,576.9 L1153.7,576.7 L1155.2,576.3 L1156.7,575.9 L1158.1,575.5 L1159.6,574.9 L1161.0,574.4 L1162.4,573.8 L1163.7,573.2 L1165.1,572.6 L1166.5,572.0 L1167.9,571.5 L1169.3,571.0 L1170.7,570.6 L1172.2,570.2 L1173.6,569.9 L1175.1,569.7 L1176.6,569.6 L1178.0,569.5 L1179.5,569.5 L1181.1,569.5 L1182.6,569.6 L1184.1,569.7 L1185.6,569.9 L1187.1,570.1 L1188.7,570.3 L1190.2,570.5 L1191.7,570.7 L1193.2,570.9 L1194.7,571.2 L1196.2,571.4 L1197.6,571.6 L1199.1,571.7 L1200.5,571.9 L1201.0,571.9" stroke="#0000ff"/>
</g>
<rect x="928.95" y="4.25" width="265.55" height="130.1" fill="#fff" stroke="#000" stroke-width="5.1"/>
<line x1="933.5" y1="27" x2="1007" y2="27" stroke="#000" stroke-width="2"/>
<line x1="933.5" y1="69.2" x2="1007" y2="69.2" stroke="#c80000" stroke-width="2"/>
<line x1="933.5" y1="110.2" x2="1007" y2="110.2" stroke="#0000ff" stroke-width="2"/>
<g font-family="'Liberation Serif', 'Times New Roman', serif" font-weight="bold" fill="#000">
<g font-size="27">
<text y="40.5"><tspan x="1014">0 V/nm</tspan></text>
<text y="82.4"><tspan x="1014" textLength="79.5" lengthAdjust="spacingAndGlyphs">9.2556</tspan> <tspan x="1110.5" textLength="64" lengthAdjust="spacingAndGlyphs">V/nm</tspan></text>
<text y="123.5"><tspan x="1014" textLength="93" lengthAdjust="spacingAndGlyphs">12.3408</tspan> <tspan x="1126" textLength="62.5" lengthAdjust="spacingAndGlyphs">V/nm</tspan></text>
</g>
<g font-size="36">
<text x="89.4" y="654.3" text-anchor="end">0</text>
<text x="89.4" y="537.9" text-anchor="end">10</text>
<text x="89.4" y="421.4" text-anchor="end">20</text>
<text x="89.4" y="305.0" text-anchor="end">30</text>
<text x="89.4" y="188.5" text-anchor="end">40</text>
<text x="89.4" y="72.1" text-anchor="end">50</text>
<text x="179.4" y="691.2" text-anchor="middle">-20</text>
<text x="379.1" y="691.2" text-anchor="middle">-15</text>
<text x="578.8" y="691.2" text-anchor="middle">-10</text>
<text x="778.5" y="691.2" text-anchor="middle">-5</text>
<text x="978.2" y="691.2" text-anchor="middle">0</text>
<text x="1177.9" y="691.2" text-anchor="middle">5</text>
</g>
<g font-size="42.2">
<text x="652.3" y="758.7" text-anchor="middle">Energy level (eV)</text>
<text transform="translate(32.5,324.3) rotate(-90)" text-anchor="middle">Density of States</text>
</g>
</g>
</svg>
</body></html>
